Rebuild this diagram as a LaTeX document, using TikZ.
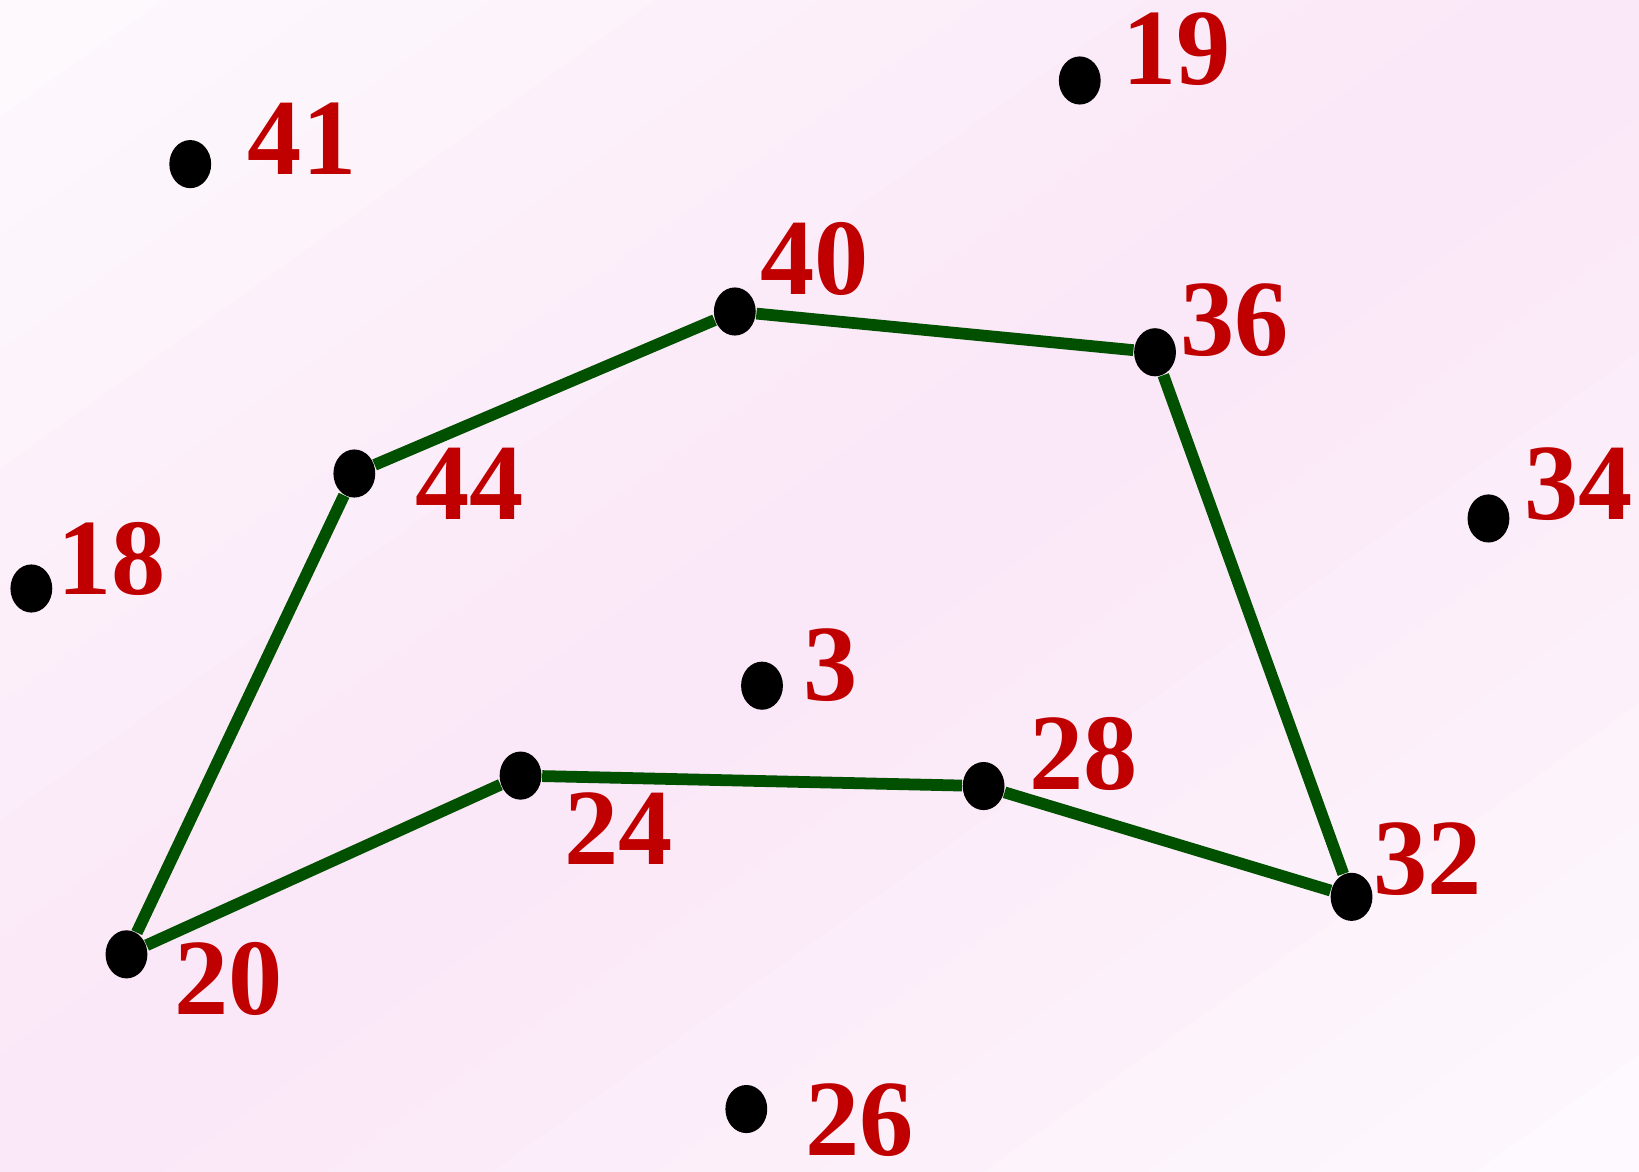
\documentclass[tikz,border=0pt]{standalone}
\usepackage{fontspec}
\newfontfamily\numfont{Liberation Serif}[UprightFont={* Bold}]
\usetikzlibrary{shapes.geometric}

\definecolor{numred}{RGB}{192,0,0}
\definecolor{hullgreen}{RGB}{0,80,0}
\definecolor{bgpink}{RGB}{250,230,247}
\definecolor{bglight}{RGB}{254,250,254}

\begin{document}
\begin{tikzpicture}[x=0.01cm, y=-0.01cm]

	% Stili per punti, numeri e contorno
	\tikzset{
		dot/.style={
			ellipse,
			fill=black,
			inner sep=0pt,
			minimum width=0.40cm,
			minimum height=0.46cm
		},
		num/.style={
			text=numred,
			font=\numfont\fontsize{29.5}{30}\selectfont,
			inner sep=0pt
		},
		hull/.style={
			draw=hullgreen,
			line width=3.2pt
		}
	}

	% Sfondo sfumato in diagonale (fasce)
	\useasboundingbox (0,0) rectangle (1568,1121);
	\begin{scope}
		\clip (0,0) rectangle (1568,1121);
		\foreach \s in {0,0.1,...,1.95} {
			\pgfmathsetmacro{\pct}{int(100*abs(0.95-\s))}
			\pgfmathsetmacro{\sa}{1568*(\s-2)}
			\pgfmathsetmacro{\sb}{1568*(\s+2)}
			\pgfmathsetmacro{\sc}{1568*(\s+2.11)}
			\pgfmathsetmacro{\sd}{1568*(\s-1.89)}
			\fill[bglight!\pct!bgpink] (\sa,2242) -- (\sb,-2242) -- (\sc,-2242) -- (\sd,2242) -- cycle;
		}
	\end{scope}

	% Punti
	\node[dot] (p41) at (182, 157)  {};
	\node[dot] (p19) at (1033, 77)  {};
	\node[dot] (p40) at (703, 298)  {};
	\node[dot] (p36) at (1105, 337) {};
	\node[dot] (p44) at (339, 453)  {};
	\node[dot] (p18) at (30, 563)   {};
	\node[dot] (p34) at (1424, 496) {};
	\node[dot] (p3)  at (729, 656)  {};
	\node[dot] (p24) at (498, 742)  {};
	\node[dot] (p28) at (941, 752)  {};
	\node[dot] (p32) at (1293, 858) {};
	\node[dot] (p20) at (121, 913)  {};
	\node[dot] (p26) at (714, 1061) {};

	% Etichette numeriche
	\node[num] (l41) at (289, 133)  {41};
	\node[num] (l19) at (1126, 47)  {19};
	\node[num] (l40) at (779, 248)  {40};
	\node[num] (l36) at (1181, 306) {36};
	\node[num] (l44) at (449, 463)  {44};
	\node[num] (l18) at (107, 535)  {18};
	\node[num] (l34) at (1510, 463) {34};
	\node[num] (l3)  at (795, 636)  {3};
	\node[num] (l28) at (1037, 721) {28};
	\node[num] (l24) at (592, 793)  {24};
	\node[num] (l32) at (1366, 822) {32};
	\node[num] (l20) at (219, 937)  {20};
	\node[num] (l26) at (822, 1072) {26};

	% Contorno verde
	\draw[hull] (p20) -- (p44) -- (p40) -- (p36) -- (p32) -- (p28) -- (p24) -- (p20);

\end{tikzpicture}
\end{document}
